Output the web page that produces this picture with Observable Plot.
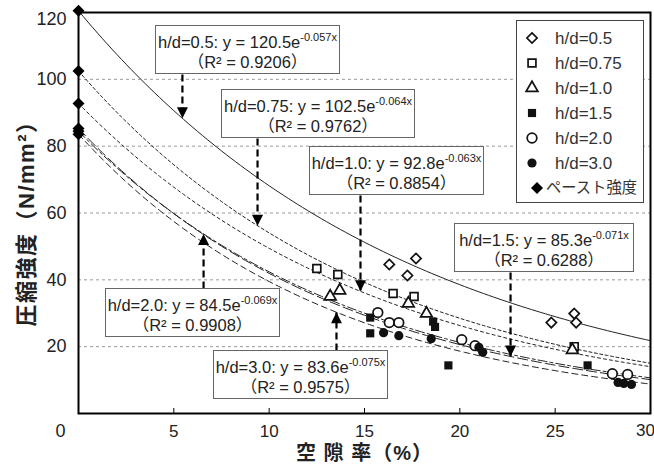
<!DOCTYPE html>
<html><head><meta charset="utf-8">
<script src="https://cdn.jsdelivr.net/npm/d3@7"></script>
<script src="https://cdn.jsdelivr.net/npm/@observablehq/plot@0.6"></script>
<style>
body{margin:0;background:#fff;}
#wrap{position:relative;width:654px;height:464px;overflow:hidden;font-family:"Liberation Sans",Arial,"Noto Sans CJK JP",sans-serif;}
#wrap svg{display:block;}
.ann{position:absolute;background:#fff;border:1.3px solid #666;box-sizing:border-box;text-align:center;font-size:16.5px;line-height:20px;color:#222;padding-top:6px;white-space:nowrap;}
.ann sup{font-size:11px;vertical-align:7px;line-height:0;}
#legend{position:absolute;left:516px;top:20px;width:128px;height:183px;background:#fff;border:1.3px solid #444;box-sizing:border-box;}
</style></head>
<body><div id="wrap"></div>
<script>
// ---- data ----
const groups = ["h/d=0.5","h/d=0.75","h/d=1.0","h/d=1.5","h/d=2.0","h/d=3.0"];
const fitA = [120.5, 102.5, 92.8, 85.3, 84.5, 83.6];
const fitB = [-0.057, -0.064, -0.063, -0.071, -0.069, -0.075];
const fitR2 = ["0.9206","0.9762","0.8854","0.6288","0.9908","0.9575"];
const pasteLabel = "ペースト強度";
const pasteStrength = [120.5, 102.5, 92.8, 85.3, 84.5, 83.6];

const porosity05 = [16.3, 17.25, 17.7, 24.8, 26.0, 26.1];
const strength05 = [44.6, 41.3, 46.4, 27.2, 29.9, 27.2];
const porosity075 = [12.5, 13.6, 16.5, 17.6, 26.0];
const strength075 = [43.4, 41.6, 35.9, 35.0, 20.0];
const porosity10 = [13.2, 13.7, 17.3, 18.25, 25.9];
const strength10 = [35.0, 36.8, 32.9, 29.9, 19.0];
const porosity15 = [15.3, 15.3, 18.6, 18.7, 19.4, 26.7];
const strength15 = [28.7, 24.0, 27.5, 25.9, 14.4, 14.4];
const porosity20 = [15.7, 16.3, 16.8, 20.1, 20.8, 28.0, 28.8];
const strength20 = [30.2, 27.2, 27.2, 22.1, 20.3, 11.9, 11.7];
const porosity30 = [16.0, 16.8, 18.5, 21.0, 21.2, 28.3, 28.6, 29.0];
const strength30 = [24.2, 23.3, 22.4, 19.8, 18.3, 9.3, 9.0, 8.7];

const xTicks = [5, 10, 15, 20, 25, 30];
const yTicks = [20, 40, 60, 80, 100, 120];
const xTitle = "空 隙 率（%）";
const yTitle = "圧縮強度（N/mm²）";

// ---- layout / style ----
const W = 654, H = 464, mL = 78, mR = 4, mT = 12, mB = 51;
const yv = py => (H - mB - py) / (H - mB - mT) * 120;
const fit = (i, x) => fitA[i] * Math.exp(fitB[i] * x);

const porosities = [porosity05, porosity075, porosity10, porosity15, porosity20, porosity30];
const strengths = [strength05, strength075, strength10, strength15, strength20, strength30];
const symbolStyles = [
  {symbol: "diamond2", r: 4.6, fill: "white", stroke: "#111"},
  {symbol: "square2", r: 5, fill: "white", stroke: "#111"},
  {symbol: "triangle2", r: 5.6, fill: "white", stroke: "#111"},
  {symbol: "square", r: 4.6, fill: "#111", stroke: "none"},
  {symbol: "circle", r: 4.8, fill: "white", stroke: "#111"},
  {symbol: "circle", r: 4.6, fill: "#111", stroke: "none"}
];
const dashes = [null, "3,2.5", "3,3", "10,4", "9,3,3,3", "6,4"];

const curveMarks = groups.map((g, i) => {
  const pts = d3.range(0, 30.001, 0.25).map(x => ({x, y: fit(i, x)}));
  return Plot.line(pts, {x: "x", y: "y", stroke: "#222", strokeWidth: 1, strokeDasharray: dashes[i]});
});
const dotMarks = groups.map((g, i) => {
  const pts = porosities[i].map((x, k) => ({x, y: strengths[i][k]}));
  const s = symbolStyles[i];
  return Plot.dot(pts, {x: "x", y: "y", symbol: s.symbol, r: s.r, fill: s.fill, stroke: s.stroke, strokeWidth: 1.7});
});

// annotation layout (pixels for boxes, data x for arrow)
const annLayout = [
  {left: 155, top: 25, width: 185, arrowX: 5.45, dir: "down"},
  {left: 221, top: 89, width: 194, arrowX: 9.39, dir: "down"},
  {left: 309, top: 146, width: 175, arrowX: 14.79, dir: "down"},
  {left: 454, top: 223, width: 180, arrowX: 22.66, dir: "down"},
  {left: 105, top: 288, width: 175, arrowX: 6.56, dir: "up"},
  {left: 213, top: 350, width: 175, arrowX: 13.53, dir: "up"}
];
const boxH = 49;

const headDown = {draw(ctx) { ctx.moveTo(0, 0); ctx.lineTo(-5.5, -11); ctx.lineTo(5.5, -11); ctx.closePath(); }};
const headUp = {draw(ctx) { ctx.moveTo(0, 0); ctx.lineTo(-5.5, 11); ctx.lineTo(5.5, 11); ctx.closePath(); }};

const arrows = annLayout.map((a, i) => ({
  x: a.arrowX,
  y1: a.dir === "down" ? yv(a.top + boxH) : yv(a.top),
  y2: fit(i, a.arrowX),
  dir: a.dir
}));

const tickLen = 5 * 120 / (H - mB - mT);

const plot = Plot.plot({
  width: W, height: H,
  marginLeft: mL, marginRight: mR, marginTop: mT, marginBottom: mB,
  x: {domain: [0, 30]},
  y: {domain: [0, 120]},
  style: {fontFamily: "'Liberation Sans', Arial, 'Noto Sans CJK JP', sans-serif", color: "#222", background: "white"},
  marks: [
    Plot.ruleY(yTicks.filter(d => d < 120), {stroke: "#9a9a9a", strokeDasharray: "3,3", strokeWidth: 1}),
    ...curveMarks,
    Plot.link(arrows, {x1: "x", x2: "x", y1: "y1", y2: "y2", stroke: "#000", strokeWidth: 2.2, strokeDasharray: "7,4"}),
    Plot.dot(arrows.filter(d => d.dir === "down"), {x: "x", y: "y2", symbol: headDown, fill: "#000", stroke: "none", r: 5}),
    Plot.dot(arrows.filter(d => d.dir === "up"), {x: "x", y: "y2", symbol: headUp, fill: "#000", stroke: "none", r: 5}),
    ...dotMarks,
    Plot.ruleX(xTicks.filter(d => d < 30), {y1: 0, y2: tickLen, stroke: "#000", strokeWidth: 1}),
    Plot.frame({stroke: "#000", strokeWidth: 2}),
    Plot.axisX(xTicks.filter(d => d < 30), {tickSize: 0, tickPadding: 11, fontSize: 17, label: null}),
    Plot.text(xTicks.filter(d => d === 30), {x: d => d, y: 0, dx: -5, dy: 17, fontSize: 17, text: d => String(d)}),
    Plot.axisY(yTicks.filter(d => d < 120), {tickSize: 0, tickPadding: 12, fontSize: 18, label: null}),
    Plot.text(yTicks.filter(d => d === 120), {x: 0, y: d => d, dx: -12, dy: 7, textAnchor: "end", fontSize: 18, text: d => String(d)}),
    Plot.text([0], {x: 0, y: 0, dx: -13, dy: 18, textAnchor: "end", fontSize: 18, text: d => String(d)}),
    Plot.dot(pasteStrength, {x: 0, y: d => d, symbol: "diamond2", r: 5.4, fill: "#000", stroke: "none"}),
    Plot.text([yTitle], {frameAnchor: "left", dx: -52, dy: 5, rotate: -90, textAnchor: "middle", lineAnchor: "middle", fontSize: 22, fontWeight: "bold", fill: "#222", text: d => d, className: "ytitle"}),
    Plot.text([xTitle], {frameAnchor: "bottom", dy: 40, textAnchor: "middle", lineAnchor: "middle", fontSize: 20, fontWeight: "bold", fill: "#222", text: d => d, className: "xtitle"})
  ]
});

const wrap = document.getElementById("wrap");
wrap.appendChild(plot);
d3.select(plot).selectAll(".ytitle text").attr("letter-spacing", "1.5px");
d3.select(plot).selectAll(".xtitle text").attr("letter-spacing", "1px");

// annotation boxes
annLayout.forEach((a, i) => {
  const div = document.createElement("div");
  div.className = "ann";
  div.style.left = a.left + "px";
  div.style.top = a.top + "px";
  div.style.width = a.width + "px";
  div.style.height = boxH + "px";
  div.innerHTML = `${groups[i]}: y = ${fitA[i].toFixed(1)}e<sup>${fitB[i].toFixed(3)}x</sup><br>（R² = ${fitR2[i]}）`;
  wrap.appendChild(div);
});

// legend
const leg = document.createElement("div");
leg.id = "legend";
wrap.appendChild(leg);
const legItems = groups.map((g, i) => ({label: g, ...symbolStyles[i]}))
  .concat([{label: pasteLabel, symbol: "diamond2", r: 5.4, fill: "#000", stroke: "none"}]);
const symMap = {diamond2: d3.symbolDiamond2, square2: d3.symbolSquare2, triangle2: d3.symbolTriangle2, square: d3.symbolSquare, circle: d3.symbolCircle};
const lsvg = d3.select(leg).append("svg").attr("width", 126).attr("height", 181).style("position", "absolute").style("left", "0").style("top", "0");
legItems.forEach((it, k) => {
  const cy = 17 + 25 * k;
  const last = k === legItems.length - 1;
  const cx = last ? 20 : 15;
  lsvg.append("path")
    .attr("d", d3.symbol().type(symMap[it.symbol]).size(Math.PI * it.r * it.r)())
    .attr("transform", `translate(${cx},${cy})`)
    .attr("fill", it.fill).attr("stroke", it.stroke).attr("stroke-width", 1.7);
  const t = lsvg.append("text").attr("x", last ? 29 : 38).attr("y", cy).attr("dy", "0.35em")
    .attr("font-size", last ? 15.5 : 17).attr("fill", "#333")
    .attr("font-family", "'Liberation Sans', Arial, 'Noto Sans CJK JP', sans-serif")
    .text(it.label);
  if (last) t.attr("textLength", 91).attr("lengthAdjust", "spacingAndGlyphs");
});
</script>
</body></html>
